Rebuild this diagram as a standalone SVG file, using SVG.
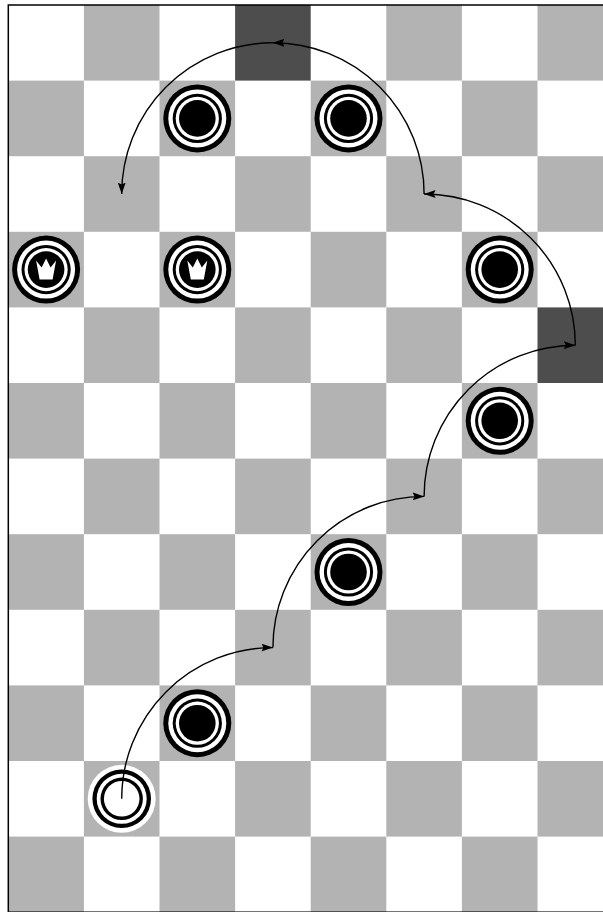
<svg xmlns="http://www.w3.org/2000/svg" xmlns:xlink="http://www.w3.org/1999/xlink" width="603" height="912" viewBox="0 0 603 912">
<style>
.sq{fill:#b3b3b3}
.dk{fill:#4d4d4d}
.arc{fill:none;stroke:#000;stroke-width:1.4;marker-end:url(#ah)}
</style>
<defs>
<marker id="ah" markerUnits="userSpaceOnUse" markerWidth="12" markerHeight="8" refX="11.5" refY="4" orient="auto">
<path d="M0,0 L11.5,4 L0,8 L2,4 Z" fill="#000"/>
</marker>
<g id="bp"><circle r="34" fill="#000"/><circle r="29" fill="#fff"/><circle r="24.6" fill="#000"/><circle r="21.6" fill="#fff"/><circle r="18.3" fill="#000"/></g>
<g id="wp"><circle r="34" fill="#fff"/><circle r="29.3" fill="#000"/><circle r="25" fill="#fff"/><circle r="21.2" fill="#000"/><circle r="17.8" fill="#fff"/></g>
<g id="kp"><use xlink:href="#bp"/><path d="M-10,-9 L-4.5,-2 L0,-11 L4.5,-2 L10,-9 L6.5,10 L-6.5,10 Z" fill="#fff"/></g>
</defs>
<g id="board">
<rect x="0" y="0" width="603" height="912" fill="#fff"/>
<rect class="sq" x="83.9" y="5" width="75.6" height="75.6"/><rect class="dk" x="235.1" y="5" width="75.6" height="75.6"/><rect class="sq" x="386.3" y="5" width="75.6" height="75.6"/><rect class="sq" x="537.5" y="5" width="75.6" height="75.6"/>
<rect class="sq" x="8.3" y="80.6" width="75.6" height="75.6"/><rect class="sq" x="159.5" y="80.6" width="75.6" height="75.6"/><rect class="sq" x="310.7" y="80.6" width="75.6" height="75.6"/><rect class="sq" x="461.9" y="80.6" width="75.6" height="75.6"/>
<rect class="sq" x="83.9" y="156.2" width="75.6" height="75.6"/><rect class="sq" x="235.1" y="156.2" width="75.6" height="75.6"/><rect class="sq" x="386.3" y="156.2" width="75.6" height="75.6"/><rect class="sq" x="537.5" y="156.2" width="75.6" height="75.6"/>
<rect class="sq" x="8.3" y="231.8" width="75.6" height="75.6"/><rect class="sq" x="159.5" y="231.8" width="75.6" height="75.6"/><rect class="sq" x="310.7" y="231.8" width="75.6" height="75.6"/><rect class="sq" x="461.9" y="231.8" width="75.6" height="75.6"/>
<rect class="sq" x="83.9" y="307.4" width="75.6" height="75.6"/><rect class="sq" x="235.1" y="307.4" width="75.6" height="75.6"/><rect class="sq" x="386.3" y="307.4" width="75.6" height="75.6"/><rect class="dk" x="537.5" y="307.4" width="75.6" height="75.6"/>
<rect class="sq" x="8.3" y="383" width="75.6" height="75.6"/><rect class="sq" x="159.5" y="383" width="75.6" height="75.6"/><rect class="sq" x="310.7" y="383" width="75.6" height="75.6"/><rect class="sq" x="461.9" y="383" width="75.6" height="75.6"/>
<rect class="sq" x="83.9" y="458.6" width="75.6" height="75.6"/><rect class="sq" x="235.1" y="458.6" width="75.6" height="75.6"/><rect class="sq" x="386.3" y="458.6" width="75.6" height="75.6"/><rect class="sq" x="537.5" y="458.6" width="75.6" height="75.6"/>
<rect class="sq" x="8.3" y="534.2" width="75.6" height="75.6"/><rect class="sq" x="159.5" y="534.2" width="75.6" height="75.6"/><rect class="sq" x="310.7" y="534.2" width="75.6" height="75.6"/><rect class="sq" x="461.9" y="534.2" width="75.6" height="75.6"/>
<rect class="sq" x="83.9" y="609.8" width="75.6" height="75.6"/><rect class="sq" x="235.1" y="609.8" width="75.6" height="75.6"/><rect class="sq" x="386.3" y="609.8" width="75.6" height="75.6"/><rect class="sq" x="537.5" y="609.8" width="75.6" height="75.6"/>
<rect class="sq" x="8.3" y="685.4" width="75.6" height="75.6"/><rect class="sq" x="159.5" y="685.4" width="75.6" height="75.6"/><rect class="sq" x="310.7" y="685.4" width="75.6" height="75.6"/><rect class="sq" x="461.9" y="685.4" width="75.6" height="75.6"/>
<rect class="sq" x="83.9" y="761" width="75.6" height="75.6"/><rect class="sq" x="235.1" y="761" width="75.6" height="75.6"/><rect class="sq" x="386.3" y="761" width="75.6" height="75.6"/><rect class="sq" x="537.5" y="761" width="75.6" height="75.6"/>
<rect class="sq" x="8.3" y="836.6" width="75.6" height="75.6"/><rect class="sq" x="159.5" y="836.6" width="75.6" height="75.6"/><rect class="sq" x="310.7" y="836.6" width="75.6" height="75.6"/><rect class="sq" x="461.9" y="836.6" width="75.6" height="75.6"/>
<rect x="8.3" y="5" width="604.8" height="907.2" fill="none" stroke="#000" stroke-width="1.5"/>
</g>
<g id="pieces">
<use id="b1" xlink:href="#bp" x="197.3" y="118.4"/>
<use id="b2" xlink:href="#bp" x="348.5" y="118.4"/>
<use id="k1" xlink:href="#kp" x="46.1" y="269.6"/>
<use id="k2" xlink:href="#kp" x="197.3" y="269.6"/>
<use id="b3" xlink:href="#bp" x="499.7" y="269.6"/>
<use id="b4" xlink:href="#bp" x="499.7" y="420.8"/>
<use id="b5" xlink:href="#bp" x="348.5" y="572"/>
<use id="b6" xlink:href="#bp" x="197.3" y="723.2"/>
<use id="w1" xlink:href="#wp" x="121.7" y="798.8"/>
</g>
<g id="connectors">
<path class="arc" d="M121.7,798.8 A151.2,151.2 0 0 1 272.9,647.6"/>
<path class="arc" d="M272.9,647.6 A151.2,151.2 0 0 1 424.1,496.4"/>
<path class="arc" d="M424.1,496.4 A151.2,151.2 0 0 1 575.3,345.2"/>
<path class="arc" d="M575.3,345.2 A151.2,151.2 0 0 0 424.1,194"/>
<path class="arc" d="M424.1,194 A151.2,151.2 0 0 0 272.9,42.8"/>
<path class="arc" d="M272.9,42.8 A151.2,151.2 0 0 0 121.7,194"/>
</g>
</svg>
